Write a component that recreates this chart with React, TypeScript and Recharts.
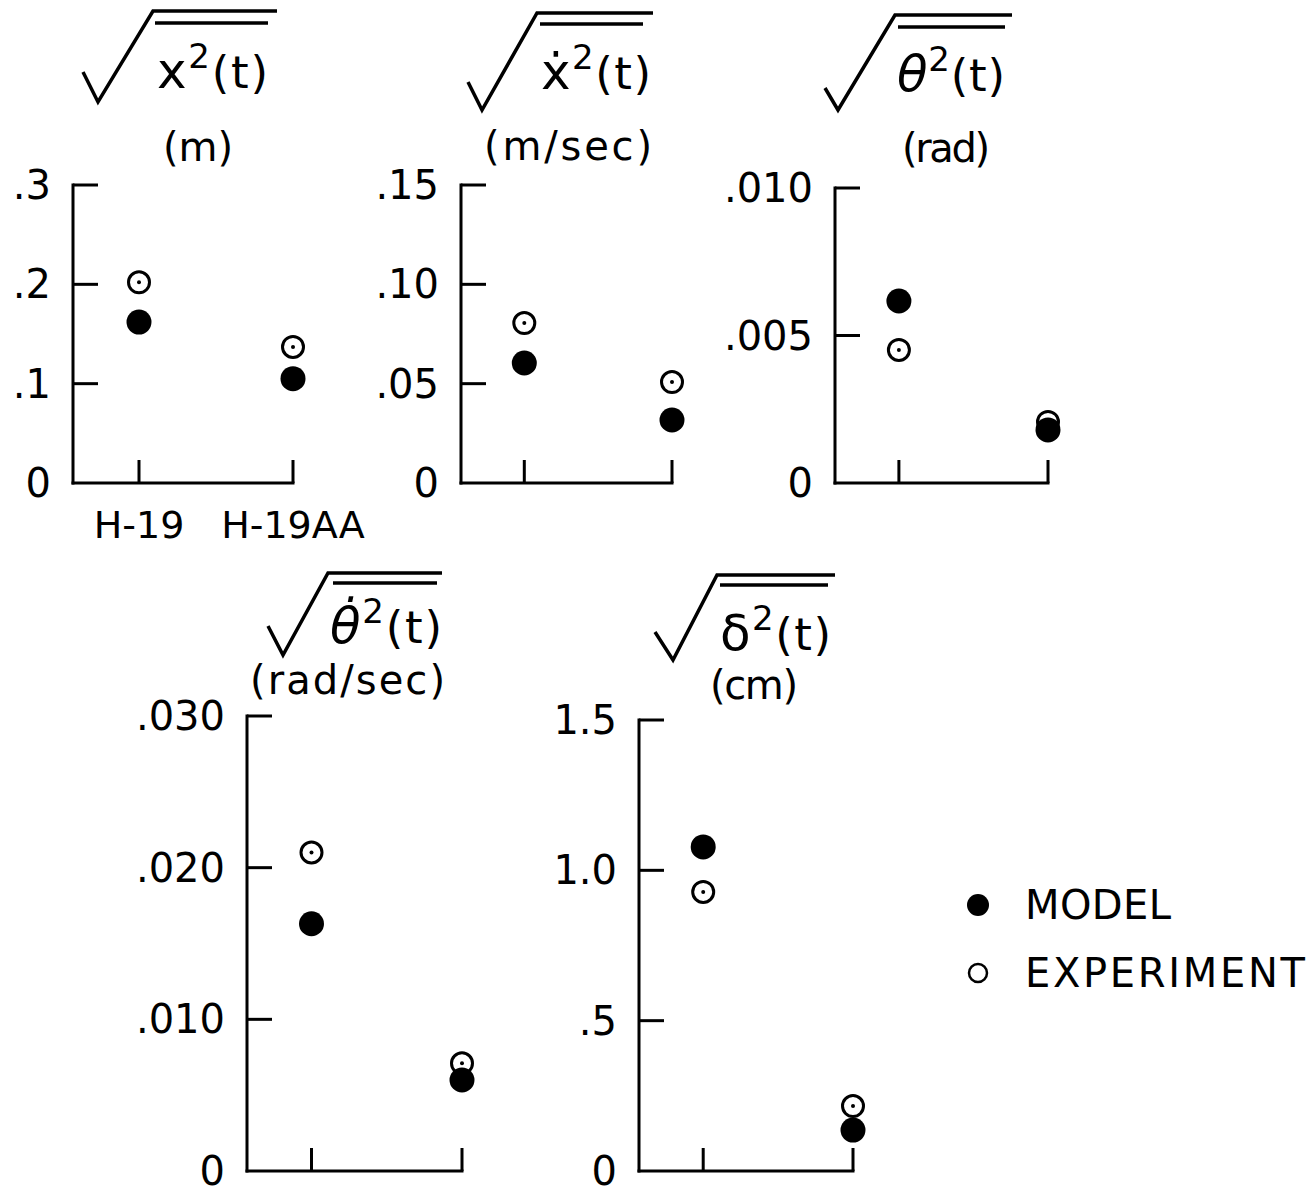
import React from "react";
import { ScatterChart, Scatter, XAxis, YAxis } from "recharts";

// ---------------- data ----------------
const CATEGORIES = ["H-19", "H-19AA"];

const X_MODEL = [0.162, 0.105];
const X_EXPERIMENT = [0.202, 0.137];
const X_TICKS = [0, 0.1, 0.2, 0.3];
const X_TICK_LABELS = ["0", ".1", ".2", ".3"];

const XDOT_MODEL = [0.0604, 0.0317];
const XDOT_EXPERIMENT = [0.0805, 0.0508];
const XDOT_TICKS = [0, 0.05, 0.1, 0.15];
const XDOT_TICK_LABELS = ["0", ".05", ".10", ".15"];

const THETA_MODEL = [0.00617, 0.0018];
const THETA_EXPERIMENT = [0.00451, 0.00207];
const THETA_TICKS = [0, 0.005, 0.01];
const THETA_TICK_LABELS = ["0", ".005", ".010"];

const THETADOT_MODEL = [0.0163, 0.006];
const THETADOT_EXPERIMENT = [0.021, 0.0071];
const THETADOT_TICKS = [0, 0.01, 0.02, 0.03];
const THETADOT_TICK_LABELS = ["0", ".010", ".020", ".030"];

const DELTA_MODEL = [1.078, 0.136];
const DELTA_EXPERIMENT = [0.928, 0.216];
const DELTA_TICKS = [0, 0.5, 1.0, 1.5];
const DELTA_TICK_LABELS = ["0", ".5", "1.0", "1.5"];

const LEGEND_LABELS = ["MODEL", "EXPERIMENT"];

// ---------------- style ----------------
const FONT = "'DejaVu Sans', 'Liberation Sans', sans-serif";
const INK = "#000";
const Y_AXIS_W = 120;
const M_TOP = 30;
const M_RIGHT = 90;
const X_AXIS_H = 70;

const toPoints = (values: number[]) => values.map((v, i) => ({ x: i, y: v }));

const ModelDot = (props: any) => {
  const { cx, cy } = props;
  if (cx == null || cy == null) return null;
  return <circle cx={cx} cy={cy} r={12.5} fill={INK} />;
};

const ExperimentDot = (props: any) => {
  const { cx, cy } = props;
  if (cx == null || cy == null) return null;
  return (
    <g>
      <circle cx={cx} cy={cy} r={10.5} fill="#fff" stroke={INK} strokeWidth={3} />
      <circle cx={cx} cy={cy} r={2} fill={INK} />
    </g>
  );
};

const XTick = (props: any) => {
  const { x, y, payload, show } = props;
  return (
    <g>
      <line x1={x} y1={y} x2={x} y2={y - 23} stroke={INK} strokeWidth={3} />
      {show ? (
        <text
          x={x}
          y={y + 42}
          textAnchor="middle"
          dominantBaseline="central"
          fontFamily={FONT}
          fontSize={38}
          fill={INK}
        >
          {CATEGORIES[payload.value]}
        </text>
      ) : null}
    </g>
  );
};

const YTick = (props: any) => {
  const { x, y, payload, ticks, labels } = props;
  const idx = ticks.indexOf(payload.value);
  return (
    <g>
      {payload.value !== 0 ? (
        <line x1={x} y1={y} x2={x + 25} y2={y} stroke={INK} strokeWidth={3} />
      ) : null}
      <text
        x={x - 22}
        y={y}
        textAnchor="end"
        dominantBaseline="central"
        fontFamily={FONT}
        fontSize={40}
        fill={INK}
      >
        {labels[idx]}
      </text>
    </g>
  );
};

type PanelProps = {
  left: number;
  top: number;
  plotW: number;
  plotH: number;
  model: number[];
  experiment: number[];
  ticks: number[];
  labels: string[];
  showCategories?: boolean;
};

function Panel({ left, top, plotW, plotH, model, experiment, ticks, labels, showCategories }: PanelProps) {
  const max = ticks[ticks.length - 1];
  return (
    <div style={{ position: "absolute", left: left - Y_AXIS_W, top: top - M_TOP }}>
      <ScatterChart
        width={Y_AXIS_W + plotW + M_RIGHT}
        height={M_TOP + plotH + X_AXIS_H}
        margin={{ top: M_TOP, right: M_RIGHT, bottom: 0, left: 0 }}
        style={{ overflow: "visible" }}
      >
        <XAxis
          type="number"
          dataKey="x"
          domain={[-3 / 7, 1]}
          ticks={[0, 1]}
          interval={0}
          height={X_AXIS_H}
          axisLine={{ stroke: INK, strokeWidth: 3, strokeLinecap: "square" }}
          tickLine={false}
          tickSize={0}
          tickMargin={0}
          tick={(p: any) => <XTick {...p} show={!!showCategories} />}
        />
        <YAxis
          type="number"
          dataKey="y"
          domain={[0, max]}
          ticks={ticks}
          interval={0}
          width={Y_AXIS_W}
          axisLine={{ stroke: INK, strokeWidth: 3, strokeLinecap: "square" }}
          tickLine={false}
          tickSize={0}
          tickMargin={0}
          tick={(p: any) => <YTick {...p} ticks={ticks} labels={labels} />}
        />
        <Scatter
          name={LEGEND_LABELS[1]}
          data={toPoints(experiment)}
          shape={ExperimentDot}
          isAnimationActive={false}
        />
        <Scatter
          name={LEGEND_LABELS[0]}
          data={toPoints(model)}
          shape={ModelDot}
          isAnimationActive={false}
        />
      </ScatterChart>
    </div>
  );
}

type TitleProps = {
  radical: string;
  bar: [number, number, number];
  textX: number;
  textW: number;
  baseline: number;
  symbol: string;
  italic?: boolean;
  unit: string;
  unitX: number;
  unitW: number;
  unitY: number;
};

function RadicalTitle({ radical, bar, textX, textW, baseline, symbol, italic, unit, unitX, unitW, unitY }: TitleProps) {
  return (
    <g>
      <path d={radical} fill="none" stroke={INK} strokeWidth={3.5} strokeLinejoin="miter" />
      <line x1={bar[0]} y1={bar[2]} x2={bar[1]} y2={bar[2]} stroke={INK} strokeWidth={3.5} />
      <text
        x={textX}
        y={baseline}
        fontFamily={FONT}
        fill={INK}
        textLength={textW}
        lengthAdjust="spacing"
      >
        <tspan fontSize={50} fontStyle={italic ? "italic" : "normal"}>{symbol}</tspan>
        <tspan fontSize={34} dy={-20}>2</tspan>
        <tspan fontSize={45} dy={20}>(t)</tspan>
      </text>
      <text
        x={unitX}
        y={unitY}
        fontFamily={FONT}
        fontSize={40}
        fill={INK}
        textLength={unitW}
        lengthAdjust="spacing"
      >
        {unit}
      </text>
    </g>
  );
}

export default function App() {
  return (
    <div
      style={{
        position: "absolute",
        left: 0,
        top: 0,
        width: 1312,
        height: 1191,
        background: "#fff",
        overflow: "hidden",
      }}
    >
      <Panel left={73} top={185} plotW={220} plotH={298} model={X_MODEL} experiment={X_EXPERIMENT} ticks={X_TICKS} labels={X_TICK_LABELS} showCategories />
      <Panel left={461} top={185} plotW={211} plotH={298} model={XDOT_MODEL} experiment={XDOT_EXPERIMENT} ticks={XDOT_TICKS} labels={XDOT_TICK_LABELS} />
      <Panel left={835} top={188} plotW={213} plotH={295} model={THETA_MODEL} experiment={THETA_EXPERIMENT} ticks={THETA_TICKS} labels={THETA_TICK_LABELS} />
      <Panel left={247} top={716} plotW={215} plotH={455} model={THETADOT_MODEL} experiment={THETADOT_EXPERIMENT} ticks={THETADOT_TICKS} labels={THETADOT_TICK_LABELS} />
      <Panel left={639} top={720} plotW={214} plotH={451} model={DELTA_MODEL} experiment={DELTA_EXPERIMENT} ticks={DELTA_TICKS} labels={DELTA_TICK_LABELS} />

      <svg
        width={1312}
        height={1191}
        style={{ position: "absolute", left: 0, top: 0, pointerEvents: "none" }}
      >
        <RadicalTitle radical="M 83 72 L 98 102 L 153 11 L 277 11" bar={[155, 268, 23]} textX={157} textW={111} baseline={88} symbol="x" unit="(m)" unitX={163} unitW={70} unitY={161} />
        <RadicalTitle radical="M 468 82 L 482 110 L 537 13 L 653 13" bar={[540, 643, 24]} textX={541} textW={110} baseline={89} symbol={"\u1E8B"} unit="(m/sec)" unitX={484} unitW={168} unitY={160} />
        <RadicalTitle radical="M 825 88 L 838 110 L 895 15 L 1012 15" bar={[898, 1005, 27]} textX={897} textW={108} baseline={91} symbol={"\u03B8"} italic unit="(rad)" unitX={902} unitW={88} unitY={162} />
        <RadicalTitle radical="M 268 626 L 283 655 L 328 573 L 442 573" bar={[333, 437, 583]} textX={330} textW={112} baseline={643} symbol={"\u03B8\u0307"} italic unit="(rad/sec)" unitX={250} unitW={195} unitY={694} />
        <RadicalTitle radical="M 655 632 L 673 660 L 717 575 L 835 575" bar={[720, 828, 585]} textX={720} textW={111} baseline={650} symbol={"\u03B4"} unit="(cm)" unitX={710} unitW={88} unitY={699} />

        <g>
          <circle cx={978} cy={905} r={11} fill={INK} />
          <text x={1025} y={905} dominantBaseline="central" fontFamily={FONT} fontSize={40} fill={INK} textLength={146} lengthAdjust="spacing">
            {LEGEND_LABELS[0]}
          </text>
          <circle cx={978} cy={973} r={9} fill="#fff" stroke={INK} strokeWidth={2.5} />
          <text x={1025} y={973} dominantBaseline="central" fontFamily={FONT} fontSize={40} fill={INK} textLength={280} lengthAdjust="spacing">
            {LEGEND_LABELS[1]}
          </text>
        </g>
      </svg>
    </div>
  );
}
